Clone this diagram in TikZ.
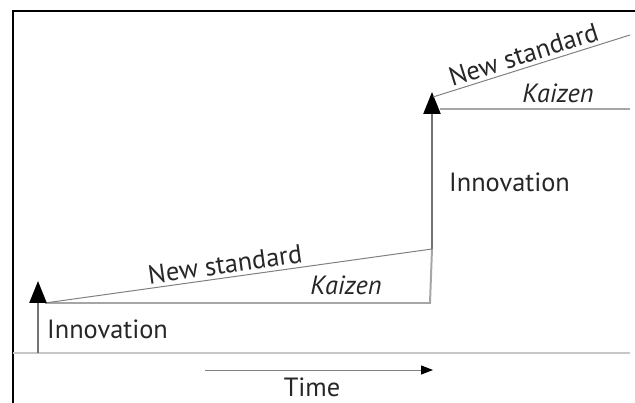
\documentclass[tikz,border=0pt]{standalone}
\usepackage{fontspec}
\setmainfont{PT Sans}
\usetikzlibrary{arrows.meta}
\tikzset{
        % Step labels
        label_text/.style={inner sep=0pt, text=black!85, font=\fontsize{22.5}{25}\selectfont},
        label_kaizen/.style={label_text, font=\fontsize{22.5}{25}\selectfont\itshape},
        % Lines
        line_base/.style={draw=black!22, line width=2.5pt},
        line_kaizen/.style={draw=black!35, line width=1.7pt},
        line_standard/.style={draw=black!50, line width=0.85pt},
        line_frame/.style={draw=black, line width=1.9pt},
        % Arrows
        arrow_innovation/.style={draw=black!55, line width=2.1pt,
            -{Triangle[length=0.66cm, width=0.51cm, black]}},
        arrow_time/.style={draw=black!50, line width=0.85pt,
            -{Triangle[length=0.36cm, width=0.27cm, black]}}
}

\begin{document}
\begin{tikzpicture}[x=0.03cm, y=-0.03cm]
    \useasboundingbox (0,0) rectangle (635,403);
    % corner points of the staircase
    \coordinate (frame_top) at (13,11);
    \coordinate (frame_right) at (635,11);
    \coordinate (frame_bottom) at (13,403);
    \coordinate (base_left) at (13,353);
    \coordinate (base_right) at (630,353);
    \coordinate (inno1_foot) at (38,353);
    \coordinate (inno1_tip) at (38,281);
    \coordinate (step1) at (45,303);
    \coordinate (kaizen1_end) at (430,303);
    \coordinate (standard1_end) at (432,249);
    \coordinate (inno2_tip) at (432,92);
    \coordinate (step2) at (433,97);
    \coordinate (standard2_end) at (630,35);
    \coordinate (kaizen2_start) at (440,109);
    \coordinate (kaizen2_end) at (630,109);
    \coordinate (time_start) at (205,370);
    \coordinate (time_end) at (433,370);

    % frame
    \draw[line_frame] (frame_bottom) -- (frame_top) -- (frame_right);
    % time axis
    \draw[line_base] (base_left) -- (base_right);
    \draw[arrow_time] (time_start) -- (time_end);
    \node[label_text] (time) at (312,387) {Time};

    % first step
    \draw[line_kaizen] (step1) -- (kaizen1_end) -- (standard1_end);
    \draw[line_standard] (step1) -- (standard1_end)
        node[label_text, sloped, above=3pt, pos=0.47] (standard1) {New standard};
    \draw[arrow_innovation] (inno1_foot) -- (inno1_tip);
    \node[label_text, anchor=west] (inno1) at (47,329) {Innovation};
    \node[label_kaizen] (kaizen1) at (346,285) {Kaizen};

    % second step
    \draw[arrow_innovation] (standard1_end) -- (inno2_tip);
    \draw[line_kaizen] (kaizen2_start) -- (kaizen2_end);
    \draw[line_standard] (step2) -- (standard2_end)
        node[label_text, sloped, above=3pt, pos=0.48] (standard2) {New standard};
    \node[label_text, anchor=west] (inno2) at (449,182) {Innovation};
    \node[label_kaizen] (kaizen2) at (558,93) {Kaizen};
\end{tikzpicture}
\end{document}
